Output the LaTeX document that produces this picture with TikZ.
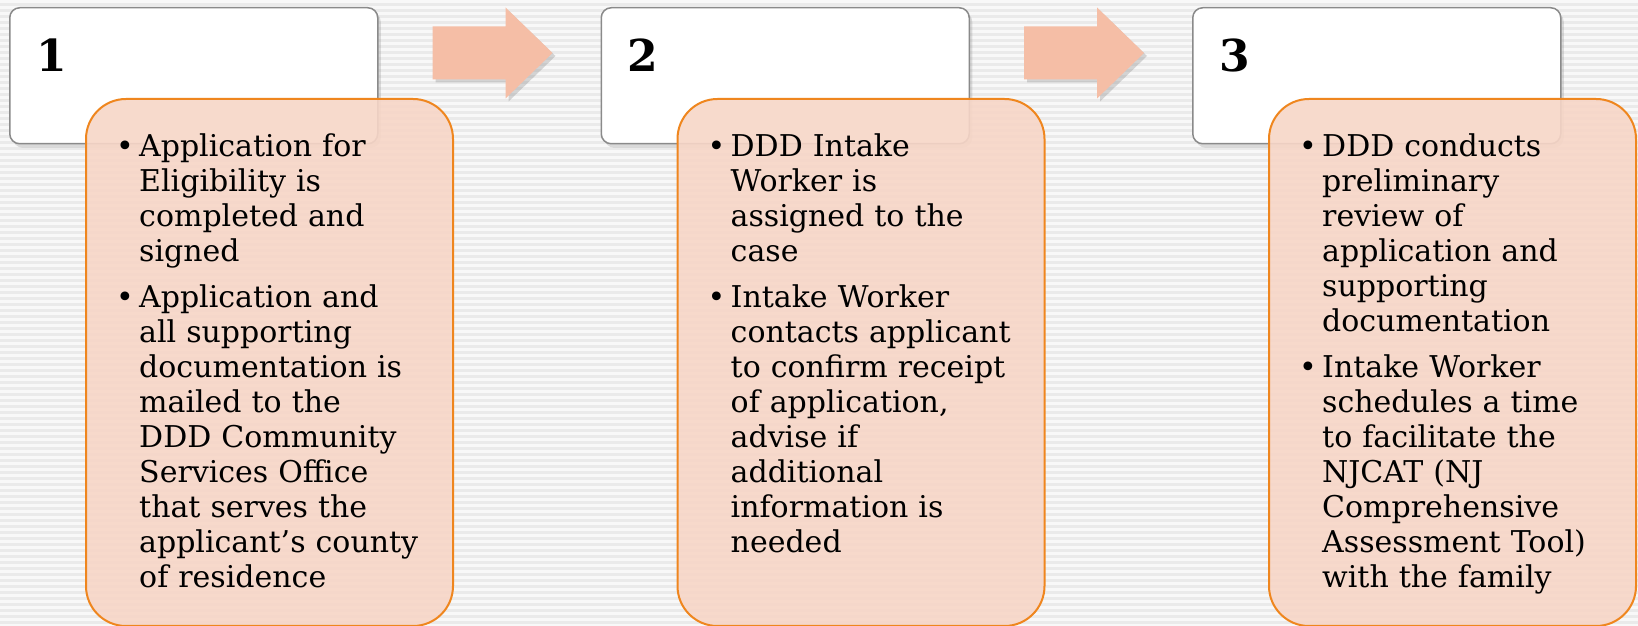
\documentclass[tikz,border=0pt]{standalone}
\usepackage{fontspec}
\setmainfont{DejaVu Serif}
\usetikzlibrary{positioning, shadows}

\definecolor{stripedark}{RGB}{234,234,234}
\definecolor{stripelight}{RGB}{248,248,248}
\definecolor{peach}{RGB}{247,214,199}
\definecolor{stepline}{RGB}{239,134,30}
\definecolor{arrowfill}{RGB}{245,190,166}
\definecolor{boxline}{RGB}{138,138,138}

\newcommand{\bul}{\par\leftskip=23pt\noindent\llap{\makebox[23pt][l]{\textbullet}}}

\tikzset{
	numbox/.style={draw=boxline, line width=1.5pt, fill=white, rounded corners=10pt,
		minimum width=368pt, minimum height=136pt, inner sep=0pt,
		drop shadow={shadow xshift=3pt, shadow yshift=-4pt, opacity=0.25}},
	infobox/.style={draw=stepline, line width=2pt, fill=peach, fill opacity=0.9,
		rounded corners=40pt, minimum width=367pt, minimum height=527pt, inner sep=0pt},
	infotext/.style={text width=345pt, align=left, inner sep=0pt,
		font=\fontsize{30pt}{35pt}\selectfont\setlength{\parskip}{11pt}},
	numlabel/.style={inner sep=0pt, font=\fontsize{44pt}{44pt}\selectfont\bfseries},
	blockarrow/.style={fill=arrowfill,
		drop shadow={shadow xshift=3pt, shadow yshift=-3pt, opacity=0.3}}
}

\begin{document}
\begin{tikzpicture}[x=1pt, y=1pt]
	\useasboundingbox (0,0) rectangle (1638,626);
	\clip (0,0) rectangle (1638,626);
	\fill[stripedark] (0,0) rectangle (1638,626);
	\foreach \y in {0,6,...,624}
		\draw[stripelight, line width=3pt] (0,\y) -- (1638,\y);

	\node[numbox, anchor=north west] (num1) at (9,619) {};
	\node[numbox, right=222pt of num1] (num2) {};
	\node[numbox, right=222pt of num2] (num3) {};

	\node[numlabel, anchor=base west] (n1) at ([xshift=27pt,yshift=-65pt]num1.north west) {1};
	\node[numlabel, anchor=base west] (n2) at ([xshift=27pt,yshift=-65pt]num2.north west) {2};
	\node[numlabel, anchor=base west] (n3) at ([xshift=27pt,yshift=-65pt]num3.north west) {3};

	\coordinate (arr1) at ([xshift=54pt,yshift=-19.5pt]num1.north east);
	\coordinate (arr2) at ([xshift=54pt,yshift=-19.5pt]num2.north east);
	\foreach \a in {arr1,arr2}
		\fill[blockarrow] (\a) -- ++(73,0) -- ++(0,19) -- ++(47,-45.5) -- ++(-47,-45.5)
			-- ++(0,19) -- ++(-73,0) -- cycle;

	\node[infobox, anchor=north west] (info1) at ([xshift=76pt,yshift=-91pt]num1.north west) {};
	\node[infobox, anchor=north west] (info2) at ([xshift=76pt,yshift=-91pt]num2.north west) {};
	\node[infobox, anchor=north west] (info3) at ([xshift=76pt,yshift=-91pt]num3.north west) {};

	\node[infotext, anchor=north west] (list1) at ([xshift=31pt,yshift=-12pt]info1.north west) {%
		\bul Application for\\ Eligibility is\\ completed and\\ signed
		\bul Application and\\ all supporting\\ documentation is\\ mailed to the\\
		DDD Community\\ Services Office\\ that serves the\\ applicant’s county\\ of residence\par};
	\node[infotext, anchor=north west] (list2) at ([xshift=31pt,yshift=-12pt]info2.north west) {%
		\bul DDD Intake\\ Worker is\\ assigned to the\\ case
		\bul Intake Worker\\ contacts applicant\\ to confirm receipt\\ of application,\\
		advise if\\ additional\\ information is\\ needed\par};
	\node[infotext, anchor=north west] (list3) at ([xshift=31pt,yshift=-12pt]info3.north west) {%
		\bul DDD conducts\\ preliminary\\ review of\\ application and\\ supporting\\ documentation
		\bul Intake Worker\\ schedules a time\\ to facilitate the\\ NJCAT (NJ\\
		Comprehensive\\ Assessment Tool)\\ with the family\par};
\end{tikzpicture}
\end{document}
